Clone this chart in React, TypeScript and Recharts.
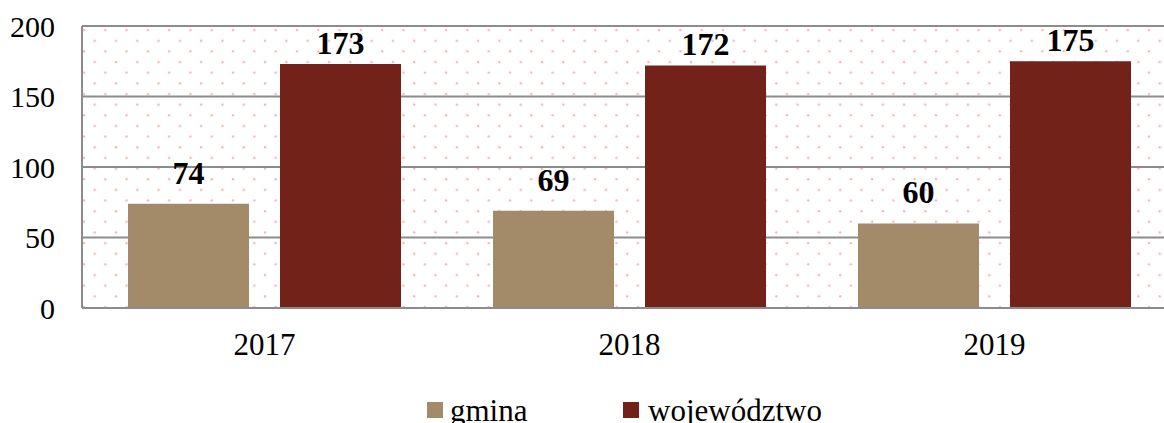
import { BarChart, Bar, XAxis, YAxis, CartesianGrid, LabelList } from 'recharts'

const years = ['2017', '2018', '2019']
const gmina = [74, 69, 60]
const wojewodztwo = [173, 172, 175]
const yTicks = [0, 50, 100, 150, 200]

const data = years.map((y, i) => ({ name: y, gmina: gmina[i], wojewodztwo: wojewodztwo[i] }))

const FONT = '"Liberation Serif", "DejaVu Serif", serif'
const C_GMINA = '#a38b6a'
const C_WOJ = '#73221a'
const labelStyle = { fontSize: 32, fontWeight: 700, fill: '#000', fontFamily: FONT }

export default function App() {
  return (
    <div style={{ position: 'fixed', left: 0, top: 0, width: 1164, height: 423, overflow: 'hidden', background: '#fff', fontFamily: FONT }}>
      <BarChart
        width={1180}
        height={423}
        data={data}
        margin={{ top: 26, right: 3, left: 0, bottom: 55 }}
        barCategoryGap={46}
        barGap={31}
      >
        <defs>
          <pattern id="dots" x="82" y="26" width="21.3" height="21.3" patternUnits="userSpaceOnUse">
            <circle cx="2" cy="4" r="1.2" fill="#f2b4b4" />
            <circle cx="12.7" cy="14.7" r="1.2" fill="#f2b4b4" />
          </pattern>
        </defs>
        <CartesianGrid vertical={false} stroke="#8c8c8c" strokeWidth={2} fill="url(#dots)" />
        <XAxis
          dataKey="name"
          height={60}
          tickLine={false}
          tickSize={0}
          tickMargin={25}
          axisLine={{ stroke: '#8c8c8c', strokeWidth: 2 }}
          tick={{ fontSize: 31, fill: '#000', fontFamily: FONT }}
        />
        <YAxis
          width={82}
          domain={[0, 200]}
          ticks={yTicks}
          interval={0}
          tickLine={false}
          tickSize={0}
          tickMargin={27}
          axisLine={{ stroke: '#8c8c8c', strokeWidth: 2 }}
          tick={{ fontSize: 30, fill: '#000', fontFamily: FONT }}
        />
        <Bar dataKey="gmina" fill={C_GMINA} isAnimationActive={false}>
          <LabelList dataKey="gmina" position="top" offset={20} style={labelStyle} />
        </Bar>
        <Bar dataKey="wojewodztwo" fill={C_WOJ} isAnimationActive={false}>
          <LabelList dataKey="wojewodztwo" position="top" offset={10} style={labelStyle} />
        </Bar>
      </BarChart>

      {/* legend, cut by the bottom edge like the reference */}
      <div style={{ position: 'absolute', left: 427, top: 402, width: 16, height: 16, background: C_GMINA }} />
      <div style={{ position: 'absolute', left: 450, top: 395, fontSize: 31, lineHeight: '31px', color: '#000', whiteSpace: 'nowrap' }}>gmina</div>
      <div style={{ position: 'absolute', left: 623, top: 402, width: 16, height: 16, background: C_WOJ }} />
      <div style={{ position: 'absolute', left: 648, top: 395, fontSize: 31, lineHeight: '31px', color: '#000', whiteSpace: 'nowrap' }}>województwo</div>
    </div>
  )
}
